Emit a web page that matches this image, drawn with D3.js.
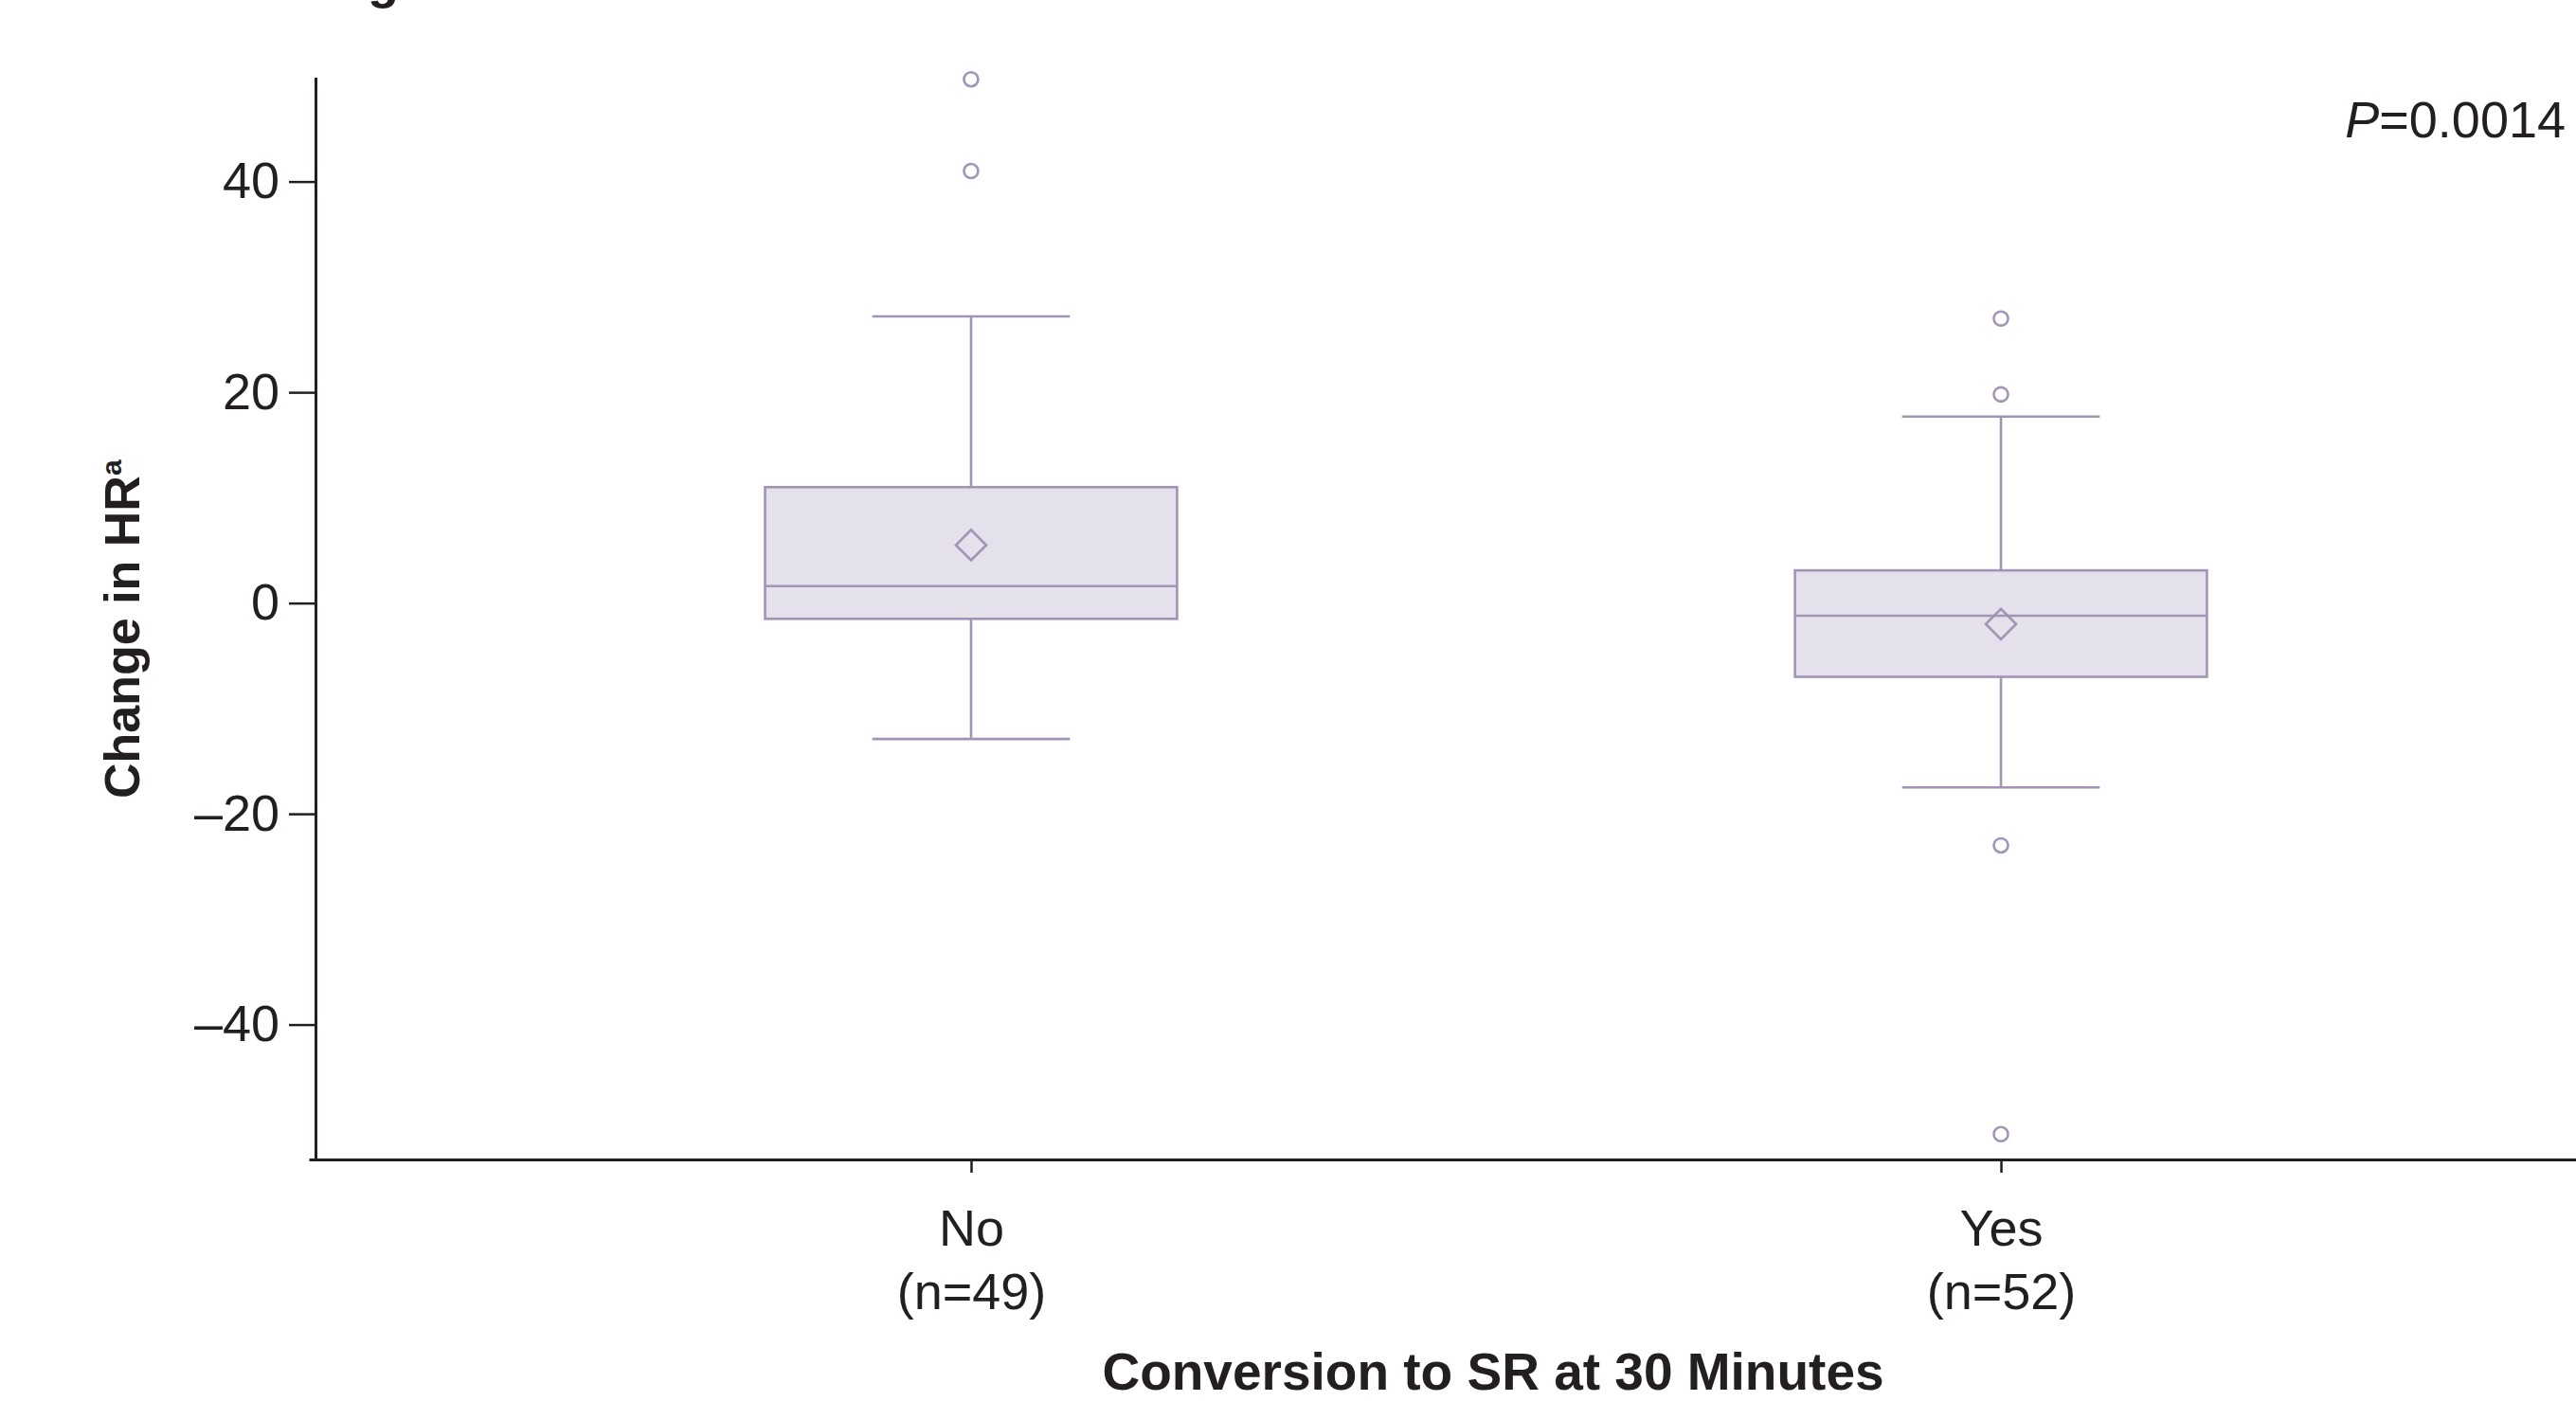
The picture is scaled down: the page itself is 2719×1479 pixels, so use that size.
<!DOCTYPE html>
<html>
<head>
<meta charset="utf-8">
<script src="https://cdn.jsdelivr.net/npm/d3@7"></script>
<style>
  body { margin: 0; background: #fff; }
  svg { display: block; font-family: "Liberation Sans", Arial, Helvetica, sans-serif; }
</style>
</head>
<body>
<div id="chart"></div>
<script>
// data
const groups = ['No', 'Yes'];
const groupN = [49, 52];
const whiskerLow = [-12.9, -17.5];
const q1 = [-1.5, -7.0];
const median = [1.6, -1.2];
const q3 = [11.0, 3.1];
const whiskerHigh = [27.2, 17.7];
const means = [5.5, -2.0];
const outliers = [[49.7, 41.0], [27.0, 19.8, -23.0, -50.4]];
const yTicks = [-40, -20, 0, 20, 40];
const yDomain = [-52.8, 49.9];
const pLabel = '0.0014';

const width = 2719, height = 1479;
const ink = '#231f20';
const boxStroke = '#a393b5';
const boxFill = '#e4e0ec';

const svg = d3.select('#chart').append('svg')
  .attr('width', width)
  .attr('height', height);

// scales
const y = d3.scaleLinear().domain(yDomain).range([1224, 81.5]);
const x = d3.scalePoint().domain(groups).range([326, 2811]).padding(0.643);
const step = x.step();
const boxHalf = step * 0.2;
const capHalf = step * 0.096;

// title remnant, cut off at the top of the crop like in the source
const title = svg.append('text')
  .attr('y', -2)
  .attr('font-size', 54)
  .attr('font-weight', 'bold')
  .attr('fill', ink)
  .text('Change in HR');
const pre = title.node().getSubStringLength(0, 4);
title.attr('x', 388 - pre);

// boxes
const boxes = svg.append('g').attr('class', 'boxes');
groups.forEach((g, i) => {
  const cx = x(g);
  const grp = boxes.append('g')
    .attr('stroke', boxStroke)
    .attr('stroke-width', 2.6)
    .attr('fill', 'none');

  // whiskers
  grp.append('line')
    .attr('x1', cx).attr('x2', cx)
    .attr('y1', y(whiskerHigh[i])).attr('y2', y(q3[i]));
  grp.append('line')
    .attr('x1', cx).attr('x2', cx)
    .attr('y1', y(q1[i])).attr('y2', y(whiskerLow[i]));
  grp.append('line')
    .attr('x1', cx - capHalf).attr('x2', cx + capHalf)
    .attr('y1', y(whiskerHigh[i])).attr('y2', y(whiskerHigh[i]));
  grp.append('line')
    .attr('x1', cx - capHalf).attr('x2', cx + capHalf)
    .attr('y1', y(whiskerLow[i])).attr('y2', y(whiskerLow[i]));

  // box
  grp.append('rect')
    .attr('x', cx - boxHalf)
    .attr('y', y(q3[i]))
    .attr('width', boxHalf * 2)
    .attr('height', y(q1[i]) - y(q3[i]))
    .attr('fill', boxFill);

  grp.append('line')
    .attr('x1', cx - boxHalf).attr('x2', cx + boxHalf)
    .attr('y1', y(median[i])).attr('y2', y(median[i]));

  // mean diamond
  grp.append('path')
    .attr('d', d3.symbol(d3.symbolSquare, 512)())
    .attr('transform', `translate(${cx},${y(means[i])}) rotate(45)`);

  // outliers
  grp.selectAll('circle')
    .data(outliers[i])
    .join('circle')
    .attr('cx', cx)
    .attr('cy', d => y(d))
    .attr('r', 7.5)
    .attr('fill', '#fff');
});

// y axis
const fmt = d => d < 0 ? '\u2013' + Math.abs(d) : String(d);
const yAxis = svg.append('g')
  .attr('transform', 'translate(333,0)')
  .call(d3.axisLeft(y).tickValues(yTicks).tickFormat(fmt).tickSize(28).tickSizeOuter(0).tickPadding(10));
yAxis.select('.domain').attr('stroke', ink).attr('stroke-width', 3);
yAxis.selectAll('.tick line').attr('stroke', ink).attr('stroke-width', 2.5);
yAxis.selectAll('.tick text')
  .attr('fill', ink)
  .attr('font-size', 54)
  .attr('font-family', '"Liberation Sans", Arial, Helvetica, sans-serif');

// x axis
const xAxis = svg.append('g')
  .attr('transform', `translate(0,${y(yDomain[0])})`)
  .call(d3.axisBottom(x).tickSize(14).tickSizeOuter(0));
xAxis.select('.domain').attr('stroke', ink).attr('stroke-width', 3);
xAxis.selectAll('.tick line').attr('stroke', ink).attr('stroke-width', 2.5);
xAxis.selectAll('.tick text').remove();
xAxis.selectAll('.tick').each(function (g, i) {
  const t = d3.select(this).append('text')
    .attr('fill', ink)
    .attr('font-size', 54)
    .attr('font-family', '"Liberation Sans", Arial, Helvetica, sans-serif')
    .attr('text-anchor', 'middle');
  t.append('tspan').attr('x', 0).attr('y', 91).text(g);
  t.append('tspan').attr('x', 0).attr('y', 158).text(`(n=${groupN[i]})`);
});

// axis titles
svg.append('text')
  .attr('x', 1576)
  .attr('y', 1467)
  .attr('text-anchor', 'middle')
  .attr('font-size', 55)
  .attr('font-weight', 'bold')
  .attr('fill', ink)
  .text('Conversion to SR at 30 Minutes');

const yTitle = svg.append('text')
  .attr('transform', 'translate(147,843) rotate(-90)')
  .attr('font-size', 52)
  .attr('font-weight', 'bold')
  .attr('fill', ink);
yTitle.append('tspan').text('Change in HR');
yTitle.append('tspan').attr('font-size', 30).attr('dy', -19).text('a');

// p value
const pText = svg.append('text')
  .attr('x', 2708)
  .attr('y', 145)
  .attr('text-anchor', 'end')
  .attr('font-size', 54)
  .attr('fill', ink);
pText.append('tspan').attr('font-style', 'italic').text('P');
pText.append('tspan').text('=' + pLabel);
</script>
</body>
</html>
